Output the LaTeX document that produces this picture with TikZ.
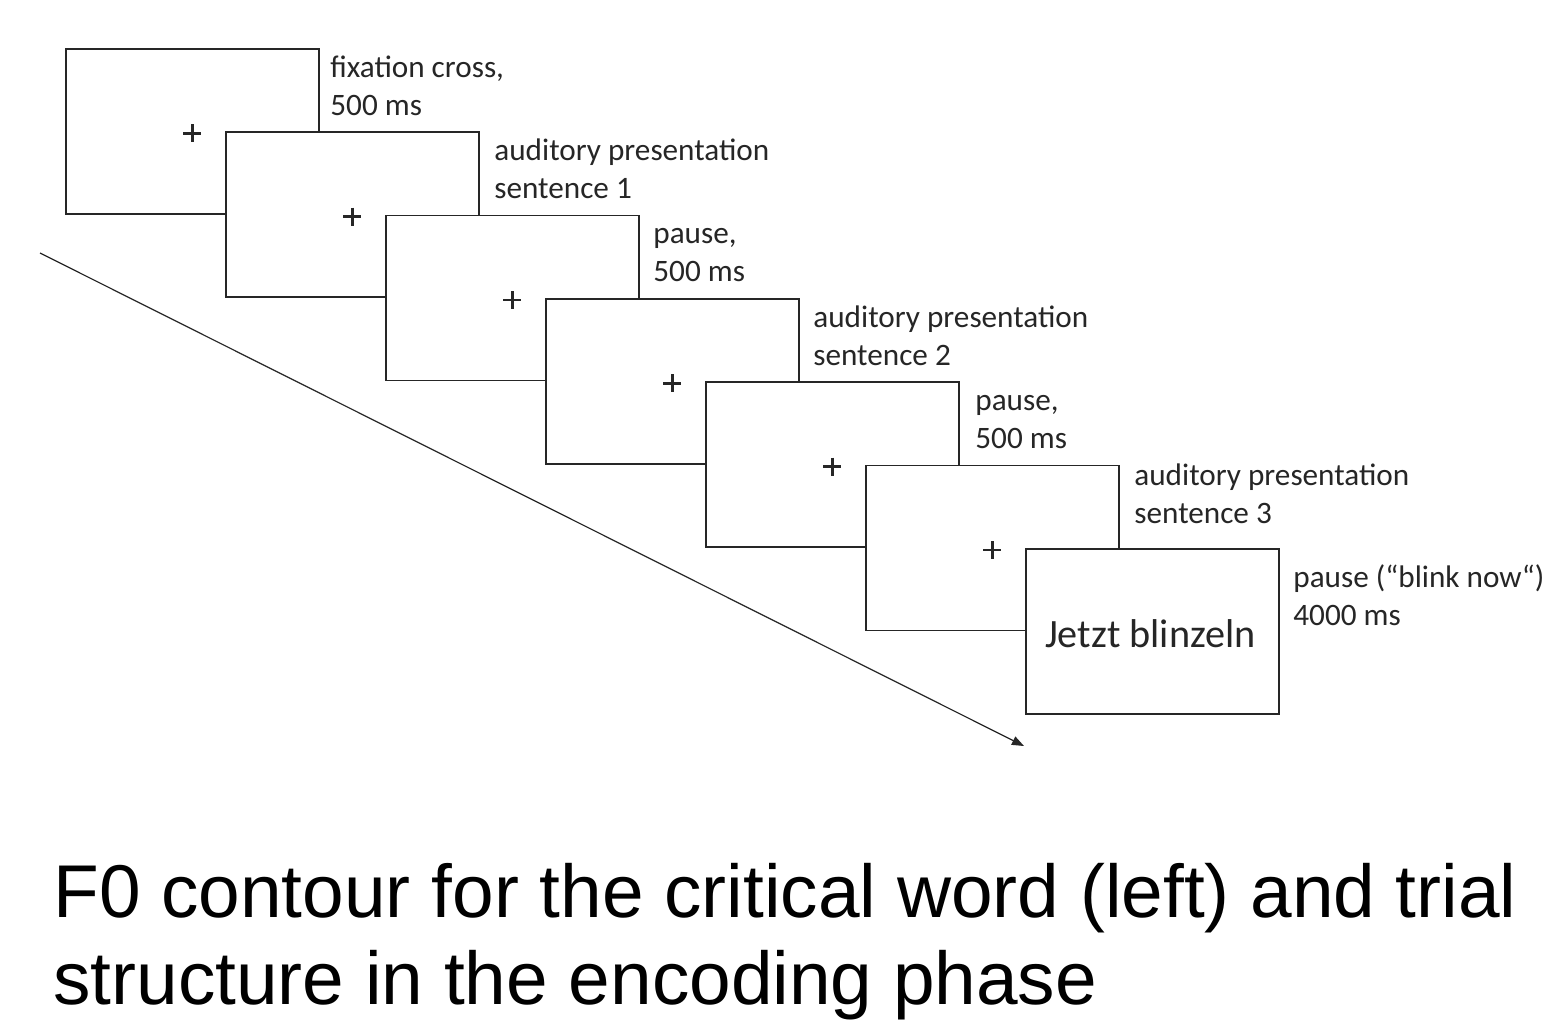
\documentclass[tikz,border=0pt]{standalone}
\usepackage{fontspec}
\setmainfont{Carlito}
\newfontfamily\capfont{Liberation Sans}
\usetikzlibrary{arrows.meta,calc}
\begin{document}
\begin{tikzpicture}[x=0.5pt,y=-0.5pt,
  screen/.style={draw=black!85,line width=0.85pt,fill=white,minimum width=126.5pt,minimum height=82.5pt,inner sep=0pt,anchor=north west},
  lbl/.style={anchor=base west,inner sep=0pt,align=left,font=\fontsize{15.6}{18.9}\selectfont,text=black!85},
  crossline/.style={line width=1.3pt,black!85}]
\fill[white] (0,0) rectangle (1546,1023);
\useasboundingbox (0,0) rectangle (1546,1023);
% time arrow
\coordinate (t0) at (40,253);
\coordinate (t1) at (1024,746);
\draw[line width=0.6pt,black!85,-{Triangle[length=6pt,width=4.5pt]}] (t0) -- (t1);
% screens
\foreach \i in {0,...,5}{
  \node[screen] (s\i) at ({65+160*\i},{48+83.33*\i}) {};
  \draw[crossline] ($(s\i.center)+(-9,2)$) -- ($(s\i.center)+(9,2)$);
  \draw[crossline] ($(s\i.center)+(0,-7)$) -- ($(s\i.center)+(0,11)$);
}
\node[screen] (s6) at (1025,548) {};
\node[font=\fontsize{20.1}{24}\selectfont,text=black!85,inner sep=0pt] (jb) at ($(s6.center)+(-2,2)$) {Jetzt blinzeln};
% labels (anchor = baseline of the last line)
\node[lbl] (l0) at (330,115) {fixation cross,\\500 ms};
\node[lbl] (l1) at (494,198) {auditory presentation\\sentence 1};
\node[lbl] (l2) at (653,281) {pause,\\500 ms};
\node[lbl] (l3) at (813,365) {auditory presentation\\sentence 2};
\node[lbl] (l4) at (975,448) {pause,\\500 ms};
\node[lbl] (l5) at (1134,523) {auditory presentation\\sentence 3};
\node[lbl] (l6) at (1293,625) {pause (“blink now“)\\4000 ms};
% caption
\node[anchor=base west,inner sep=0pt,align=left,font=\capfont\fontsize{37.4}{43.2}\selectfont] (cap) at (53,1004) {F0 contour for the critical word (left) and trial\\structure in the encoding phase};
\end{tikzpicture}
\end{document}
